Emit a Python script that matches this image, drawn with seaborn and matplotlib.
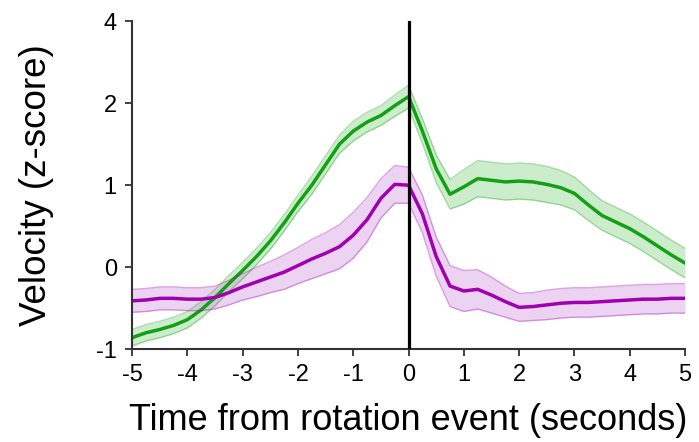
import numpy as np
import pandas as pd
import matplotlib
matplotlib.use('Agg')
import matplotlib.pyplot as plt
import seaborn as sns

# time axis (seconds from rotation event)
time = [-5.00, -4.75, -4.50, -4.25, -4.00, -3.75, -3.50, -3.25, -3.00, -2.75,
        -2.50, -2.25, -2.00, -1.75, -1.50, -1.25, -1.00, -0.75, -0.50, -0.25,
        0.00, 0.25, 0.50, 0.75, 1.00, 1.25, 1.50, 1.75, 2.00, 2.25,
        2.50, 2.75, 3.00, 3.25, 3.50, 3.75, 4.00, 4.25, 4.50, 4.75, 5.00]

# green trace: mean and half-width of shaded band
green_mean = [-0.86, -0.80, -0.76, -0.71, -0.64, -0.52, -0.37, -0.20, -0.04, 0.13,
              0.32, 0.54, 0.78, 1.00, 1.25, 1.50, 1.66, 1.77, 1.85, 1.97,
              2.08, 1.66, 1.20, 0.89, 0.98, 1.08, 1.06, 1.04, 1.05, 1.04,
              1.01, 0.97, 0.90, 0.76, 0.63, 0.55, 0.47, 0.37, 0.26, 0.15, 0.05]
green_err = [0.10, 0.10, 0.10, 0.10, 0.10, 0.10, 0.10, 0.10, 0.10, 0.10,
             0.10, 0.10, 0.10, 0.11, 0.11, 0.11, 0.12, 0.12, 0.12, 0.13,
             0.14, 0.15, 0.17, 0.18, 0.21, 0.22, 0.22, 0.22, 0.22, 0.22,
             0.22, 0.21, 0.20, 0.19, 0.18, 0.18, 0.18, 0.18, 0.18, 0.18, 0.18]

# magenta trace
magenta_mean = [-0.41, -0.40, -0.38, -0.38, -0.39, -0.39, -0.37, -0.31, -0.24, -0.18,
                -0.12, -0.06, 0.02, 0.10, 0.17, 0.25, 0.39, 0.58, 0.84, 1.01,
                1.00, 0.65, 0.13, -0.23, -0.29, -0.27, -0.34, -0.42, -0.49, -0.48,
                -0.46, -0.44, -0.43, -0.43, -0.42, -0.41, -0.40, -0.39, -0.39, -0.38, -0.38]
magenta_err = [0.14, 0.14, 0.14, 0.14, 0.14, 0.14, 0.14, 0.15, 0.16, 0.18,
               0.19, 0.21, 0.22, 0.24, 0.25, 0.27, 0.28, 0.27, 0.24, 0.23,
               0.22, 0.23, 0.24, 0.25, 0.25, 0.24, 0.22, 0.19, 0.17, 0.17,
               0.18, 0.18, 0.18, 0.18, 0.18, 0.18, 0.18, 0.18, 0.18, 0.18, 0.18]

xticks = [-5, -4, -3, -2, -1, 0, 1, 2, 3, 4, 5]
yticks = [-1, 0, 1, 2, 3]
ytick_labels = ['-1', '0', '1', '2', '4']

sns.set_style('ticks')
plt.rcParams['font.family'] = ['Liberation Sans', 'DejaVu Sans']
plt.rcParams['axes.unicode_minus'] = False

df = pd.DataFrame({'time': time,
                   'green': green_mean, 'green_err': green_err,
                   'magenta': magenta_mean, 'magenta_err': magenta_err})

fig = plt.figure(figsize=(6.99, 4.42), dpi=100)
ax = fig.add_axes([0.189, 0.21, 0.791, 0.742])

traces = [('green', '#14a014', '#8fd88f'), ('magenta', '#a000b0', '#d79ee0')]
for name, line_col, fill_col in traces:
    lo = df[name] - df[name + '_err']
    hi = df[name] + df[name + '_err']
    ax.fill_between(df['time'], lo, hi, color=fill_col, alpha=0.45, linewidth=0)
    ax.plot(df['time'], lo, color=line_col, alpha=0.35, linewidth=1)
    ax.plot(df['time'], hi, color=line_col, alpha=0.35, linewidth=1)
    sns.lineplot(data=df, x='time', y=name, ax=ax, color=line_col, linewidth=2.5)

ax.axvline(0, color='black', linewidth=2.3, zorder=5)

ax.set_xlim(-5, 5)
ax.set_ylim(-1, 3)
ax.set_xticks(xticks)
ax.set_xticklabels([str(t) for t in xticks])
ax.set_yticks(yticks)
ax.set_yticklabels(ytick_labels)
ax.tick_params(labelsize=17, length=5, width=1.3, color='#333333',
               labelcolor='black', pad=6)

sns.despine(ax=ax)
for s in ['left', 'bottom']:
    ax.spines[s].set_linewidth(1.5)
    ax.spines[s].set_color('#333333')

ax.set_xlabel('Time from rotation event (seconds)', fontsize=26, labelpad=12,
              color='black')
ax.set_ylabel('Velocity (z-score)', fontsize=26.5, labelpad=30, color='black')

fig.savefig('out.png', dpi=100)
